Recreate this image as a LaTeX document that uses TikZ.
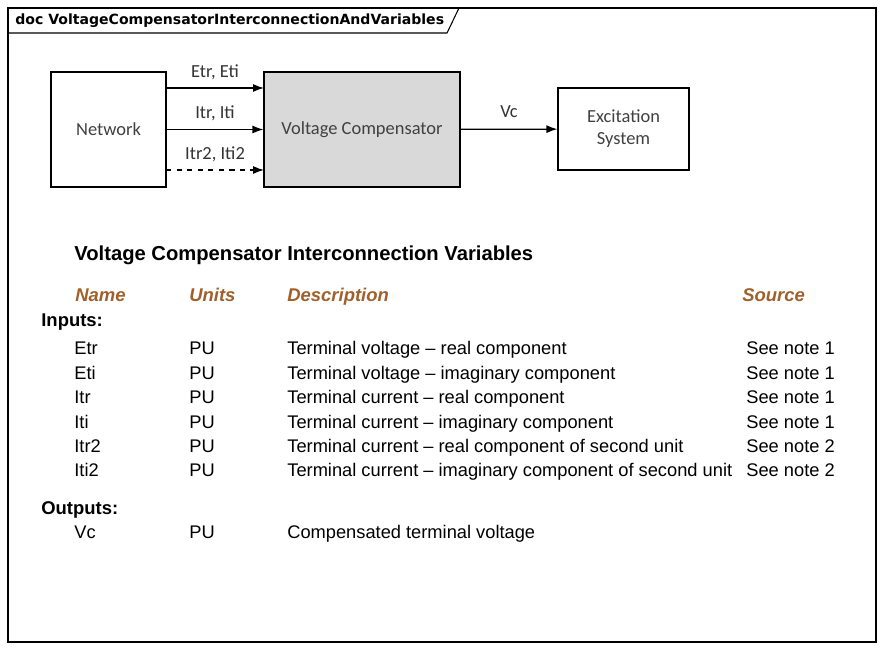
\documentclass[tikz,border=0pt]{standalone}
\usepackage{fontspec}
\setmainfont{Liberation Sans}
\newfontfamily\boxfont{Carlito}
\newfontfamily\hdrfont{DejaVu Sans}
\usetikzlibrary{positioning, arrows.meta}

\definecolor{hdrbrown}{HTML}{A0602C}
\definecolor{vcgray}{HTML}{D9D9D9}

\begin{document}
\begin{tikzpicture}[x=0.02cm, y=-0.02cm,
    block/.style={rectangle, draw=black, line width=0.7pt, font=\boxfont\fontsize{10.5}{12.5}\selectfont,
                  align=center, text=black!75, inner sep=0pt},
    arrow/.style={-{Latex[length=2.2mm, width=1.6mm]}, line width=0.7pt},
    lbl/.style={font=\boxfont\fontsize{10.5}{12}\selectfont, text=black!80},
    cell/.style={anchor=base west, font=\fontsize{10.4}{12}\selectfont, inner sep=0pt},
    colhead/.style={cell, text=hdrbrown, font=\fontsize{10.5}{12}\selectfont\bfseries\itshape}
]
    \useasboundingbox (0,0) rectangle (884,651);

    % Frame and tab
    \draw[line width=0.6pt] (8,8) rectangle (876,642);
    \draw[line width=0.6pt] (8,33) -- (447,33) -- (459,8);
    \node[anchor=base west, inner sep=0pt, font=\hdrfont\fontsize{8}{10}\selectfont\bfseries] (tab) at (15,25)
        {doc VoltageCompensatorInterconnectionAndVariables};

    % Blocks
    \node[block, minimum width=2.3cm, minimum height=2.3cm] (net) at (108.5,129.5) {Network};
    \node[block, fill=vcgray, minimum width=3.92cm, minimum height=2.3cm] (vc) at (362,129.5) {Voltage Compensator};
    \node[block, minimum width=2.62cm, minimum height=1.64cm] (exc) at (623.5,129) {Excitation\\System};

    % Connectors
    \coordinate (e1) at (166,88);  \coordinate (e2) at (264,88);
    \coordinate (i1) at (166,170); \coordinate (i2) at (264,170);
    \draw[arrow] (e1) -- (e2) node[lbl, midway, above=1pt] {Etr, Eti};
    \draw[arrow] (net) -- (vc) node[lbl, midway, above=1pt] {Itr, Iti};
    \draw[arrow, dashed] (i1) -- (i2) node[lbl, midway, above=1pt] {Itr2, Iti2};
    \draw[arrow] (vc) -- (exc) node[lbl, midway, above=3pt] {Vc};

    % Table
    \node[cell, font=\fontsize{11.5}{14}\selectfont\bfseries] (title) at (74,261)
        {Voltage Compensator Interconnection Variables};
    \node[colhead] (hname) at (75,301) {Name};
    \node[colhead] (hunits) at (189,301) {Units};
    \node[colhead] (hdesc) at (287,301) {Description};
    \node[colhead] (hsrc) at (742,301) {Source};

    \node[cell, font=\fontsize{10.5}{12}\selectfont\bfseries] (inputs) at (41,326) {Inputs:};
    \foreach \y/\nm/\desc/\src in {
        354/Etr/Terminal voltage -- real component/See note 1,
        379/Eti/Terminal voltage -- imaginary component/See note 1,
        403/Itr/Terminal current -- real component/See note 1,
        428/Iti/Terminal current -- imaginary component/See note 1,
        452/Itr2/Terminal current -- real component of second unit/See note 2,
        476/Iti2/Terminal current -- imaginary component of second unit/See note 2}{
        \node[cell] (n\nm) at (74,\y) {\nm};
        \node[cell] (u\nm) at (189,\y) {PU};
        \node[cell] (d\nm) at (287,\y) {\desc};
        \node[cell] (s\nm) at (746,\y) {\src};
    }

    \node[cell, font=\fontsize{10.5}{12}\selectfont\bfseries] (outputs) at (41,514) {Outputs:};
    \node[cell] (nVc) at (74,538) {Vc};
    \node[cell] (uVc) at (189,538) {PU};
    \node[cell] (dVc) at (287,538) {Compensated terminal voltage};

\end{tikzpicture}
\end{document}
